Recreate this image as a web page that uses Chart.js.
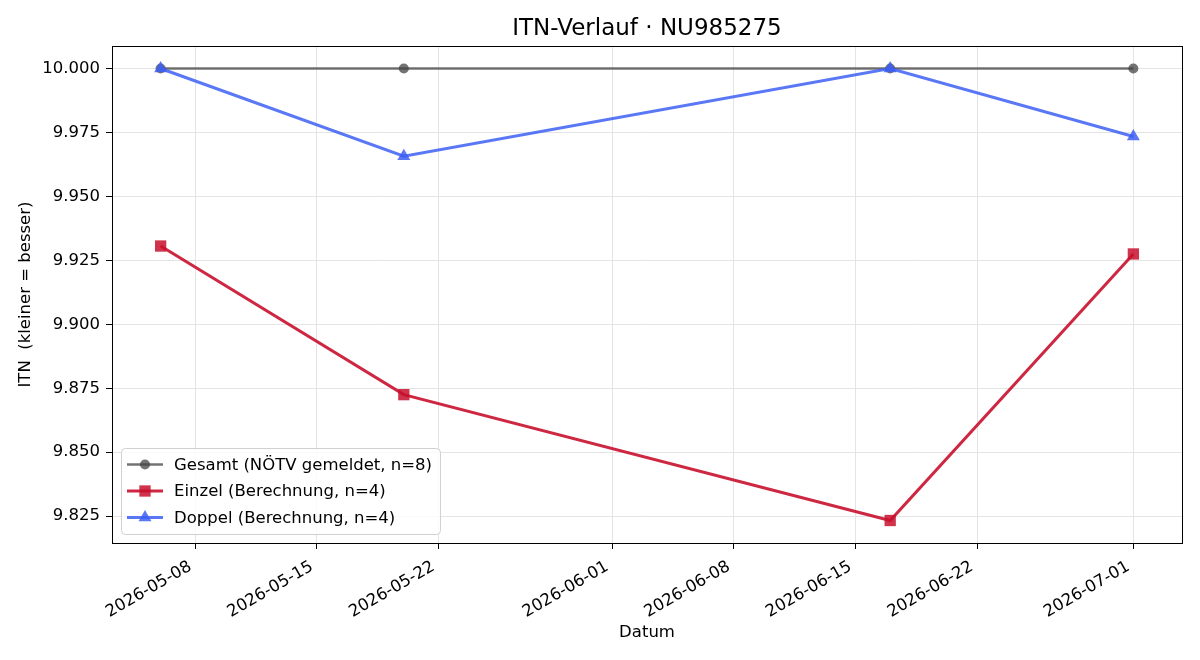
<!DOCTYPE html>
<html>
<head>
<meta charset="utf-8">
<script src="https://cdn.jsdelivr.net/npm/chart.js@4/dist/chart.umd.min.js"></script>
<style>
  body { margin: 0; background: #fff; }
</style>
</head>
<body>
<canvas id="itnChart" width="1200" height="660"></canvas>
<script>
// Daten
const dates = ['2026-05-06', '2026-05-20', '2026-06-17', '2026-07-01'];
const gesamt = [10.000, 10.000, 10.000, 10.000];
const einzel = [9.9306, 9.8725, 9.8233, 9.9275];
const doppel = [10.000, 9.9657, 10.000, 9.9734];
const xTickLabels = ['2026-05-08', '2026-05-15', '2026-05-22', '2026-06-01', '2026-06-08', '2026-06-15', '2026-06-22', '2026-07-01'];
const yTicks = [9.825, 9.850, 9.875, 9.900, 9.925, 9.950, 9.975, 10.000];
const seriesNames = ['Gesamt (NÖTV gemeldet, n=8)', 'Einzel (Berechnung, n=4)', 'Doppel (Berechnung, n=4)'];

const toDay = s => Date.UTC(+s.slice(0, 4), +s.slice(5, 7) - 1, +s.slice(8, 10)) / 86400000;
const xDays = dates.map(toDay);
const xTickDays = xTickLabels.map(toDay);
const pts = vals => vals.map((v, i) => ({ x: xDays[i], y: v }));

const FONT = "'DejaVu Sans', sans-serif";
Chart.defaults.font.family = FONT;
Chart.defaults.color = '#000';

// Rahmen um die Zeichenfläche
const frame = {
  id: 'frame',
  afterDatasetsDraw(chart) {
    const a = chart.chartArea, c = chart.ctx;
    c.save();
    c.strokeStyle = '#000';
    c.lineWidth = 1;
    c.strokeRect(a.left + 0.5, a.top + 0.5, a.right - a.left, a.bottom - a.top);
    c.restore();
  }
};

// Legende im matplotlib-Stil (Linie + Marker), unten links
const mplLegend = {
  id: 'mplLegend',
  afterDraw(chart) {
    const a = chart.chartArea, c = chart.ctx;
    c.save();
    c.font = '16.5px ' + FONT;
    const textW = Math.max(...seriesNames.map(t => c.measureText(t).width));
    const rowH = 26.5;
    const w = 53 + textW + 8, h = 86;
    const x0 = a.left + 9, y0 = a.bottom - 9 - h;
    c.fillStyle = 'rgba(255,255,255,0.8)';
    c.strokeStyle = '#d0d0d0';
    c.lineWidth = 1;
    c.beginPath();
    c.roundRect(x0 + 0.5, y0 + 0.5, w, h, 4);
    c.fill();
    c.stroke();
    chart.data.datasets.forEach((ds, i) => {
      const cy = y0 + 16.5 + i * rowH;
      c.strokeStyle = ds.borderColor;
      c.lineWidth = ds.borderWidth;
      c.beginPath();
      c.moveTo(x0 + 6, cy);
      c.lineTo(x0 + 42, cy);
      c.stroke();
      c.fillStyle = ds.pointBackgroundColor;
      const mx = x0 + 24, r = ds.pointRadius;
      c.beginPath();
      if (ds.pointStyle === 'circle') {
        c.arc(mx, cy, r, 0, Math.PI * 2);
      } else if (ds.pointStyle === 'rect') {
        const s = r * Math.SQRT1_2;
        c.rect(mx - s, cy - s, 2 * s, 2 * s);
      } else {
        c.moveTo(mx, cy - r);
        c.lineTo(mx + r * 0.866, cy + r * 0.5);
        c.lineTo(mx - r * 0.866, cy + r * 0.5);
        c.closePath();
      }
      c.fill();
      c.fillStyle = '#000';
      c.textBaseline = 'middle';
      c.fillText(seriesNames[i], x0 + 53, cy + 1);
    });
    c.restore();
  }
};

const ctx = document.getElementById('itnChart').getContext('2d');
new Chart(ctx, {
  type: 'line',
  data: {
    datasets: [{
      label: seriesNames[0],
      data: pts(gesamt),
      borderColor: 'rgba(68,68,68,0.75)',
      pointBackgroundColor: 'rgba(68,68,68,0.75)',
      pointBorderWidth: 0,
      borderWidth: 2.5,
      pointStyle: 'circle',
      pointRadius: 5,
      pointHoverRadius: 5,
      order: 3
    }, {
      label: seriesNames[1],
      data: pts(einzel),
      borderColor: 'rgba(200,16,46,0.9)',
      pointBackgroundColor: 'rgba(200,16,46,0.85)',
      pointBorderWidth: 0,
      borderWidth: 3,
      pointStyle: 'rect',
      pointRadius: 8,
      pointHoverRadius: 8,
      order: 2
    }, {
      label: seriesNames[2],
      data: pts(doppel),
      borderColor: 'rgba(61,95,245,0.85)',
      pointBackgroundColor: 'rgba(61,95,245,0.85)',
      pointBorderWidth: 0,
      borderWidth: 3,
      pointStyle: 'triangle',
      pointRadius: 7.5,
      pointHoverRadius: 7.5,
      order: 1
    }]
  },
  options: {
    responsive: false,
    animation: false,
    devicePixelRatio: 1,
    layout: { padding: { left: 0, right: 18, top: 0, bottom: 0 } },
    plugins: {
      legend: { display: false },
      tooltip: { enabled: false },
      title: {
        display: true,
        fullSize: false,
        text: 'ITN-Verlauf · NU985275',
        font: { size: 23, weight: 'normal' },
        color: '#000',
        padding: { top: 15, bottom: 3.4 }
      }
    },
    scales: {
      x: {
        type: 'linear',
        min: xDays[0] - 2.8,
        max: xDays[xDays.length - 1] + 2.8,
        afterBuildTicks: s => { s.ticks = xTickDays.map(v => ({ value: v })); },
        afterFit: s => { s.height = 117; },
        ticks: {
          autoSkip: false,
          minRotation: 30,
          maxRotation: 30,
          padding: 8,
          labelOffset: -5,
          font: { size: 16.5 },
          callback: (v, i) => xTickLabels[i]
        },
        grid: { color: '#e4e4e4', tickColor: '#000', tickLength: 6 },
        border: { color: '#000' },
        title: { display: true, text: 'Datum', font: { size: 16.5 }, padding: { bottom: 17 } }
      },
      y: {
        min: 9.8145,
        max: 10.0088,
        afterBuildTicks: s => { s.ticks = yTicks.map(v => ({ value: v })); },
        afterFit: s => { s.width = 112; },
        ticks: {
          padding: 6,
          font: { size: 16.5 },
          callback: v => v.toFixed(3)
        },
        grid: { color: '#e4e4e4', tickColor: '#000', tickLength: 6 },
        border: { color: '#000' },
        title: { display: true, text: 'ITN  (kleiner = besser)', font: { size: 16.5 }, padding: { top: 16 } }
      }
    }
  },
  plugins: [frame, mplLegend]
});
</script>
</body>
</html>
